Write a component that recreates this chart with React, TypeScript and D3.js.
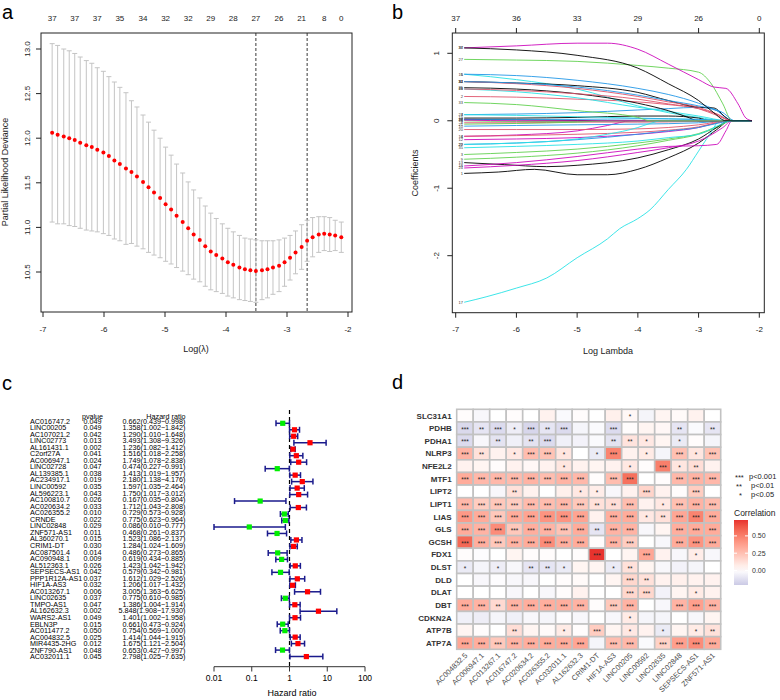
import React from "react";
import * as d3 from "d3";

const FONT = "'Liberation Sans', Arial, Helvetica, sans-serif";

// ---------------- Panel a : cross-validation curve ----------------
const cvLogLambda = [-6.85, -6.76, -6.66, -6.57, -6.48, -6.39, -6.29, -6.20, -6.11, -6.01, -5.92, -5.83, -5.74, -5.64, -5.55, -5.46, -5.36, -5.27, -5.18, -5.08, -4.99, -4.90, -4.81, -4.71, -4.62, -4.53, -4.43, -4.34, -4.25, -4.16, -4.06, -3.97, -3.88, -3.78, -3.69, -3.60, -3.51, -3.41, -3.32, -3.23, -3.13, -3.04, -2.95, -2.86, -2.76, -2.67, -2.58, -2.48, -2.39, -2.30, -2.21, -2.11];
const cvMean = [12.06, 12.04, 12.02, 12.00, 11.98, 11.95, 11.92, 11.90, 11.87, 11.84, 11.80, 11.75, 11.71, 11.66, 11.62, 11.57, 11.51, 11.45, 11.39, 11.33, 11.26, 11.20, 11.13, 11.06, 10.99, 10.92, 10.86, 10.79, 10.73, 10.69, 10.65, 10.61, 10.58, 10.55, 10.53, 10.52, 10.51, 10.52, 10.53, 10.55, 10.57, 10.61, 10.66, 10.72, 10.78, 10.85, 10.89, 10.92, 10.93, 10.92, 10.91, 10.89];
const cvSd = [1.00, 1.00, 0.98, 0.98, 0.97, 0.96, 0.95, 0.94, 0.92, 0.91, 0.89, 0.88, 0.86, 0.85, 0.80, 0.78, 0.75, 0.73, 0.70, 0.67, 0.64, 0.61, 0.58, 0.55, 0.52, 0.50, 0.47, 0.45, 0.43, 0.41, 0.39, 0.38, 0.37, 0.36, 0.35, 0.35, 0.35, 0.33, 0.32, 0.30, 0.29, 0.27, 0.25, 0.24, 0.25, 0.23, 0.22, 0.20, 0.19, 0.19, 0.17, 0.17];
const cvTopIdx = [0, 4, 8, 12, 16, 20, 24, 28, 32, 36, 40, 44, 48, 51];
const cvTopLabels = ["37", "37", "37", "35", "34", "32", "32", "29", "28", "27", "26", "21", "8", "0"];
const cvLambdaLines = [-3.51, -2.67];
const logLambdaTicks = [-7, -6, -5, -4, -3, -2];
const cvTicksY = [10.5, 11.0, 11.5, 12.0, 12.5, 13.0];

// ---------------- Panel b : coefficient paths ----------------
const pathTopLabels = ["37", "36", "33", "29", "26", "0"];
const pathTicksY = [-2, -1, 0, 1];
const pathPalette = ["#000000", "#DF536B", "#61D04F", "#2297E6", "#28E2E5", "#CD0BBC"];
const coefPaths: [number, number][][] = [
  [[-6.86, -0.78], [-6.3, -0.76], [-5.7, -0.72], [-5, -0.8], [-4.5, -0.8], [-4, -0.72], [-3.5, -0.55], [-3, -0.33], [-2.7, -0.13], [-2.48, 0], [-2.12, 0]],
  [[-6.86, 0.36], [-6, 0.35], [-5, 0.32], [-4, 0.28], [-3.5, 0.24], [-3, 0.18], [-2.7, 0.1], [-2.45, 0], [-2.12, 0]],
  [[-6.86, -0.5], [-6, -0.47], [-5, -0.42], [-4, -0.33], [-3.5, -0.27], [-3, -0.19], [-2.7, -0.09], [-2.45, 0], [-2.12, 0]],
  [[-6.86, 0.09], [-6, 0.1], [-5, 0.12], [-4, 0.16], [-3.5, 0.18], [-3, 0.2], [-2.7, 0.15], [-2.45, 0], [-2.12, 0]],
  [[-6.86, 0.69], [-6, 0.61], [-5, 0.47], [-4, 0.22], [-3.5, 0.12], [-3, 0.05], [-2.6, 0], [-2.12, 0]],
  [[-6.86, -0.23], [-6, -0.21], [-5, -0.15], [-4.5, -0.07], [-4.1, 0], [-2.12, 0]],
  [[-6.86, 0.02], [-6, 0.015], [-5, 0.005], [-4.6, 0], [-2.12, 0]],
  [[-6.86, -0.03], [-6, -0.03], [-5, -0.02], [-4, -0.02], [-3, -0.01], [-2.5, 0], [-2.12, 0]],
  [[-6.86, -0.57], [-6, -0.54], [-5, -0.48], [-4, -0.37], [-3.5, -0.29], [-3, -0.2], [-2.7, -0.1], [-2.45, 0], [-2.12, 0]],
  [[-6.86, -0.08], [-6, -0.07], [-5, -0.06], [-4, -0.05], [-3, -0.03], [-2.5, 0], [-2.12, 0]],
  [[-6.86, 0.47], [-6, 0.43], [-5, 0.34], [-4, 0.2], [-3.5, 0.14], [-3, 0.07], [-2.5, 0], [-2.12, 0]],
  [[-6.86, -0.28], [-6, -0.27], [-5, -0.25], [-4, -0.2], [-3.5, -0.16], [-3, -0.1], [-2.7, -0.03], [-2.5, 0], [-2.12, 0]],
  [[-6.86, -0.62], [-6.2, -0.65], [-5.5, -0.68], [-5, -0.66], [-4, -0.55], [-3.5, -0.43], [-3, -0.27], [-2.7, -0.1], [-2.5, 0], [-2.12, 0]],
  [[-6.86, -0.23], [-6, -0.22], [-5, -0.2], [-4, -0.17], [-3.5, -0.14], [-3, -0.09], [-2.7, -0.03], [-2.45, 0], [-2.12, 0]],
  [[-6.86, 0.0], [-6, -0.01], [-5, -0.01], [-4.6, 0], [-2.12, 0]],
  [[-6.86, 0.69], [-6, 0.67], [-5, 0.6], [-4, 0.48], [-3.5, 0.39], [-3, 0.26], [-2.7, 0.15], [-2.45, 0], [-2.12, 0]],
  [[-6.86, -2.69], [-6.5, -2.61], [-6, -2.48], [-5.5, -2.33], [-5, -2.03], [-4.5, -1.75], [-4.3, -1.6], [-4, -1.45], [-3.8, -1.32], [-3.5, -1.02], [-3.2, -0.72], [-3, -0.45], [-2.8, -0.18], [-2.65, 0], [-2.12, 0]],
  [[-6.86, -0.67], [-6, -0.62], [-5, -0.53], [-4, -0.42], [-3.5, -0.38], [-3, -0.37], [-2.7, -0.35], [-2.55, -0.15], [-2.45, 0], [-2.12, 0]],
  [[-6.86, 0.04], [-6, 0.04], [-5, 0.05], [-4, 0.07], [-3.5, 0.07], [-3, 0.04], [-2.8, 0], [-2.12, 0]],
  [[-6.86, -0.13], [-6, -0.13], [-5, -0.13], [-4, -0.12], [-3.5, -0.1], [-3, -0.06], [-2.5, 0], [-2.12, 0]],
  [[-6.86, -0.05], [-6, -0.04], [-5, -0.02], [-4.5, 0], [-2.12, 0]],
  [[-6.86, -0.35], [-6, -0.33], [-5, -0.28], [-4, -0.2], [-3.5, -0.15], [-3, -0.1], [-2.6, -0.02], [-2.45, 0], [-2.12, 0]],
  [[-6.86, 0.09], [-6, 0.08], [-5, 0.06], [-4, 0.04], [-3.5, 0.03], [-3, 0.02], [-2.4, 0], [-2.12, 0]],
  [[-6.86, -0.7], [-6, -0.66], [-5, -0.59], [-4, -0.47], [-3.5, -0.4], [-3, -0.3], [-2.6, -0.1], [-2.45, 0], [-2.12, 0]],
  [[-6.86, 0.49], [-6, 0.47], [-5, 0.4], [-4, 0.26], [-3.5, 0.15], [-3.2, 0.06], [-3.0, 0], [-2.12, 0]],
  [[-6.86, 0.47], [-6, 0.45], [-5, 0.4], [-4, 0.32], [-3.5, 0.25], [-3, 0.18], [-2.7, 0.08], [-2.45, 0], [-2.12, 0]],
  [[-6.86, 0.91], [-6, 0.9], [-5, 0.88], [-4, 0.82], [-3.5, 0.78], [-3, 0.72], [-2.8, 0.56], [-2.6, 0.25], [-2.45, 0], [-2.12, 0]],
  [[-6.86, 0.02], [-6, 0.02], [-5, 0.02], [-4, 0.03], [-3, 0.02], [-2.5, 0], [-2.12, 0]],
  [[-6.86, -0.35], [-6, -0.33], [-5, -0.27], [-4.5, -0.2], [-4, -0.1], [-3.8, -0.04], [-3.6, 0], [-2.12, 0]],
  [[-6.86, 0.01], [-6, 0.0], [-5.5, 0], [-2.12, 0]],
  [[-6.86, 0.58], [-6, 0.56], [-5, 0.52], [-4, 0.42], [-3.5, 0.3], [-3, 0.2], [-2.75, 0.19], [-2.55, 0.05], [-2.45, 0], [-2.12, 0]],
  [[-6.86, 0.58], [-6, 0.55], [-5, 0.48], [-4, 0.36], [-3.5, 0.28], [-3, 0.2], [-2.7, 0.1], [-2.45, 0], [-2.12, 0]],
  [[-6.86, 0.27], [-6, 0.24], [-5, 0.15], [-4, 0.05], [-3.8, 0], [-2.12, 0]],
  [[-6.86, 0.58], [-6, 0.56], [-5, 0.5], [-4, 0.38], [-3.5, 0.3], [-3, 0.22], [-2.6, 0.12], [-2.4, 0], [-2.12, 0]],
  [[-6.86, -0.4], [-6, -0.38], [-5, -0.35], [-4, -0.3], [-3.5, -0.25], [-3, -0.2], [-2.7, -0.08], [-2.45, 0], [-2.12, 0]],
  [[-6.86, 1.08], [-6, 1.11], [-5, 1.15], [-4.5, 1.15], [-4, 1.06], [-3.5, 0.84], [-3, 0.61], [-2.75, 0.5], [-2.55, 0.48], [-2.35, 0.25], [-2.22, 0.04], [-2.12, 0]],
  [[-6.86, 1.08], [-6, 1.05], [-5, 0.97], [-4, 0.78], [-3.5, 0.55], [-3, 0.3], [-2.75, 0.12], [-2.55, 0], [-2.12, 0]],
];

// ---------------- Panel c : univariate Cox forest ----------------
const forestGenes = ["AC016747.2", "LINC00205", "AC107021.2", "LINC02773", "AL161431.1", "C2orf27A", "AC006947.1", "LINC02728", "AL139385.1", "AC234917.1", "LINC00592", "AL596223.1", "AC100810.7", "AC020634.2", "AC026355.2", "CRNDE", "LINC02848", "ZNF571-AS1", "AL360270.1", "CRIM1-DT", "AC087501.4", "AC090948.1", "AL512363.1", "SEPSECS-AS1", "PPP1R12A-AS1", "HIF1A-AS3", "AC013267.1", "LINC02635", "TMPO-AS1", "AL162632.3", "WARS2-AS1", "EBLN3P", "AC011477.2", "AC004832.5", "MIR4435-2HG", "ZNF790-AS1", "AC032011.1"];
const forestP = ["0.049", "0.049", "0.042", "0.013", "0.002", "0.041", "0.024", "0.047", "0.038", "0.019", "0.035", "0.043", "0.026", "0.033", "0.010", "0.022", "0.029", "0.011", "0.015", "0.030", "0.014", "0.009", "0.026", "0.042", "0.037", "0.032", "0.006", "0.037", "0.047", "0.002", "0.049", "0.015", "0.050", "0.025", "0.012", "0.048", "0.045"];
const forestHR = [0.662, 1.358, 1.290, 3.493, 1.236, 1.516, 1.749, 0.474, 1.413, 2.180, 1.597, 1.750, 0.167, 1.712, 0.729, 0.775, 0.086, 0.468, 1.523, 1.284, 0.486, 0.619, 1.423, 0.579, 1.612, 1.206, 3.005, 0.775, 1.386, 5.848, 1.401, 0.661, 0.754, 1.414, 1.675, 0.653, 2.798];
const forestLow = [0.439, 1.002, 1.010, 1.308, 1.082, 1.018, 1.078, 0.227, 1.019, 1.138, 1.035, 1.017, 0.035, 1.043, 0.573, 0.623, 0.010, 0.261, 1.086, 1.024, 0.273, 0.434, 1.042, 0.342, 1.029, 1.017, 1.363, 0.610, 1.004, 1.908, 1.002, 0.473, 0.569, 1.044, 1.121, 0.427, 1.025];
const forestHigh = [0.998, 1.842, 1.648, 9.326, 1.412, 2.258, 2.838, 0.991, 1.957, 4.176, 2.464, 3.012, 0.804, 2.808, 0.928, 0.964, 0.777, 0.837, 2.137, 1.609, 0.865, 0.885, 1.942, 0.981, 2.526, 1.432, 6.625, 0.985, 1.914, 17.930, 1.958, 0.924, 1.000, 1.915, 2.504, 0.997, 7.635];
const hrTicks = [0.01, 0.1, 1, 10, 100];

// ---------------- Panel d : correlation heatmap ----------------
const heatGenes = ["SLC31A1", "PDHB", "PDHA1", "NLRP3", "NFE2L2", "MTF1", "LIPT2", "LIPT1", "LIAS", "GLS", "GCSH", "FDX1", "DLST", "DLD", "DLAT", "DBT", "CDKN2A", "ATP7B", "ATP7A"];
const heatLnc = ["AC004832.5", "AC006947.1", "AC013267.1", "AC016747.2", "AC020634.2", "AC026355.2", "AC032011.1", "AL162632.3", "CRIM1-DT", "HIF1A-AS3", "LINC00205", "LINC00592", "LINC02635", "LINC02848", "SEPSECS-AS1", "ZNF571-AS1"];
const heatCorr = [
  [0.01, -0.03, 0.00, 0.01, 0.00, 0.05, -0.02, 0.01, 0.00, 0.06, 0.03, -0.04, 0.04, 0.02, 0.05, 0.00],
  [-0.15, -0.10, -0.14, -0.07, -0.16, -0.10, -0.14, -0.04, -0.02, -0.14, 0.01, 0.04, 0.03, -0.10, -0.02, -0.10],
  [-0.14, -0.03, -0.11, -0.06, -0.11, -0.14, -0.06, -0.05, -0.02, -0.11, 0.11, 0.09, 0.04, -0.08, 0.01, -0.04],
  [0.30, 0.12, 0.05, 0.09, 0.26, 0.24, 0.10, 0.00, -0.08, 0.48, 0.05, 0.08, -0.04, 0.25, 0.10, 0.24],
  [0.05, 0.04, 0.01, 0.05, 0.03, 0.05, 0.10, 0.05, 0.04, 0.05, 0.09, 0.01, 0.50, 0.10, 0.13, 0.05],
  [0.33, 0.28, 0.28, 0.27, 0.30, 0.26, 0.30, 0.28, 0.01, 0.26, 0.55, 0.00, 0.01, 0.28, 0.30, 0.28],
  [0.00, 0.00, -0.03, 0.12, 0.05, 0.00, 0.06, 0.09, 0.07, -0.03, 0.05, 0.17, 0.05, 0.01, 0.20, 0.00],
  [0.28, 0.20, 0.22, 0.20, 0.27, 0.26, 0.28, 0.22, 0.12, 0.13, 0.26, 0.05, 0.09, 0.25, 0.30, 0.26],
  [0.40, 0.33, 0.22, 0.33, 0.36, 0.42, 0.42, 0.36, 0.05, 0.32, 0.33, 0.09, 0.12, 0.35, 0.48, 0.33],
  [0.33, 0.30, 0.45, 0.22, 0.32, 0.30, 0.24, 0.33, -0.10, 0.30, 0.30, -0.03, 0.04, 0.32, 0.33, 0.33],
  [0.58, 0.32, 0.22, 0.30, 0.33, 0.45, 0.32, 0.33, 0.01, 0.30, 0.20, 0.00, -0.03, 0.33, 0.42, 0.33],
  [0.01, -0.01, 0.00, 0.04, 0.01, 0.01, 0.00, 0.01, 0.73, 0.00, 0.04, 0.35, 0.05, -0.03, 0.07, -0.03],
  [-0.08, -0.04, -0.07, -0.03, -0.10, -0.10, -0.08, 0.04, 0.04, -0.08, 0.12, 0.04, -0.03, -0.05, -0.04, 0.00],
  [0.00, -0.03, -0.01, -0.03, -0.03, 0.00, 0.01, 0.02, 0.00, 0.04, 0.16, 0.12, 0.05, 0.06, 0.05, 0.05],
  [0.00, 0.00, 0.00, -0.03, 0.00, -0.03, 0.01, 0.05, 0.00, 0.00, 0.16, 0.16, -0.05, 0.04, 0.08, 0.05],
  [0.33, 0.30, 0.15, 0.30, 0.32, 0.32, 0.32, 0.30, 0.01, 0.22, 0.30, 0.00, -0.03, 0.30, 0.38, 0.30],
  [-0.06, -0.07, -0.04, -0.06, -0.03, -0.04, -0.01, -0.03, 0.00, -0.03, 0.08, -0.04, -0.04, 0.00, -0.03, 0.04],
  [0.04, 0.01, 0.00, 0.13, 0.04, 0.02, 0.08, 0.01, 0.20, 0.04, 0.09, 0.05, -0.08, 0.04, 0.08, 0.12],
  [0.35, 0.32, 0.22, 0.30, 0.32, 0.33, 0.33, 0.35, -0.04, 0.26, 0.28, -0.02, 0.18, 0.38, 0.45, 0.33],
];
const heatStars = [
  [0, 0, 0, 0, 0, 0, 0, 0, 0, 0, 1, 0, 0, 0, 0, 0],
  [3, 2, 3, 1, 3, 2, 3, 0, 0, 3, 0, 0, 0, 2, 0, 2],
  [3, 0, 2, 0, 2, 3, 0, 0, 0, 2, 2, 1, 0, 1, 0, 0],
  [3, 2, 0, 1, 3, 3, 1, 0, 1, 3, 0, 1, 0, 3, 1, 3],
  [0, 0, 0, 0, 0, 0, 1, 0, 0, 0, 1, 0, 3, 1, 2, 0],
  [3, 3, 3, 3, 3, 3, 3, 3, 0, 3, 3, 0, 0, 3, 3, 3],
  [0, 0, 0, 2, 0, 0, 0, 1, 1, 0, 0, 3, 0, 0, 3, 0],
  [3, 3, 3, 3, 3, 3, 3, 3, 2, 2, 3, 0, 1, 3, 3, 3],
  [3, 3, 3, 3, 3, 3, 3, 3, 0, 3, 3, 1, 2, 3, 3, 3],
  [3, 3, 3, 3, 3, 3, 3, 3, 2, 3, 3, 0, 0, 3, 3, 3],
  [3, 3, 3, 3, 3, 3, 3, 3, 0, 3, 3, 0, 0, 3, 3, 3],
  [0, 0, 0, 0, 0, 0, 0, 0, 3, 0, 0, 3, 0, 0, 1, 0],
  [1, 0, 1, 0, 2, 2, 1, 0, 0, 1, 2, 0, 0, 0, 0, 0],
  [0, 0, 0, 0, 0, 0, 0, 0, 0, 0, 3, 2, 0, 0, 0, 0],
  [0, 0, 0, 0, 0, 0, 0, 0, 0, 0, 3, 3, 0, 0, 1, 0],
  [3, 3, 2, 3, 3, 3, 3, 3, 0, 3, 3, 0, 0, 3, 3, 3],
  [0, 0, 0, 0, 0, 0, 0, 0, 0, 0, 1, 0, 0, 0, 0, 0],
  [0, 0, 0, 2, 0, 0, 1, 0, 3, 0, 1, 0, 1, 0, 1, 2],
  [3, 3, 3, 3, 3, 3, 3, 3, 0, 3, 3, 0, 3, 3, 3, 3],
];
const legendTicks = [0, 0.25, 0.5];
const corrRange = [-0.21, 0.73];

export default function App() {
  // ----- panel a scales
  const xA = d3.scaleLinear().domain([-7, -2]).range([43, 348]);
  const yA = d3.scaleLinear().domain([10.5, 13]).range([272, 49]);
  // ----- panel b scales
  const xB = d3.scaleLinear().domain([-7, -2]).range([455.7, 759.3]);
  const yB = d3.scaleLinear().domain([-2, 1]).range([255.7, 53.3]);
  const lineB = d3
    .line<[number, number]>()
    .x((d) => xB(d[0]))
    .y((d) => yB(d[1]))
    .curve(d3.curveMonotoneX);
  // ----- panel c scales
  const xC = d3.scaleLog().domain([0.01, 100]).range([214, 365]);
  const rowText = (i: number) => 420.9 + i * 6.55;
  const rowMark = (i: number) => 423.3 + i * 6.48;
  // ----- panel d scales
  const xD = d3.scaleBand<string>().domain(heatLnc).range([456.7, 720.7]);
  const yD = d3.scaleBand<string>().domain(heatGenes).range([409.3, 649.3]);
  const colorD = d3
    .scaleLinear<string>()
    .domain([corrRange[0], 0, corrRange[1]])
    .range(["#CBCAE5", "#FFFFFF", "#E8332E"])
    .interpolate(d3.interpolateLab);
  const yLeg = d3.scaleLinear().domain(corrRange).range([585, 520]);
  const gradStops = d3.range(0, 11).map((k) => {
    const v = corrRange[0] + ((corrRange[1] - corrRange[0]) * k) / 10;
    return { off: 1 - k / 10, color: colorD(v) };
  });

  const axisCol = "#222";

  return (
    <svg
      width={780}
      height={700}
      style={{ position: "absolute", left: 0, top: 0, background: "#fff" }}
      fontFamily={FONT}
    >
      {/* ================= Panel a ================= */}
      <text x={2} y={19} fontSize={20}>a</text>
      <rect x={41} y={33} width={311} height={279} fill="none" stroke={axisCol} strokeWidth={1} />
      {cvLambdaLines.map((v, i) => (
        <line key={i} x1={xA(v)} x2={xA(v)} y1={33} y2={312} stroke="#222" strokeWidth={0.9} strokeDasharray="3,2" />
      ))}
      {cvLogLambda.map((l, i) => {
        const x = xA(l);
        const up = yA(cvMean[i] + cvSd[i]);
        const lo = yA(cvMean[i] - cvSd[i]);
        return (
          <g key={i} stroke="#C4C4C4" strokeWidth={1}>
            <line x1={x} x2={x} y1={up} y2={lo} />
            <line x1={x - 2.5} x2={x + 2.5} y1={up} y2={up} />
            <line x1={x - 2.5} x2={x + 2.5} y1={lo} y2={lo} />
          </g>
        );
      })}
      {cvLogLambda.map((l, i) => (
        <circle key={i} cx={xA(l)} cy={yA(cvMean[i])} r={2} fill="#FF0000" />
      ))}
      {cvTopIdx.map((idx, i) => (
        <text key={i} x={xA(cvLogLambda[idx])} y={21} fontSize={8} textAnchor="middle" fill={axisCol}>
          {cvTopLabels[i]}
        </text>
      ))}
      {logLambdaTicks.map((t) => (
        <g key={t}>
          <line x1={xA(t)} x2={xA(t)} y1={312} y2={317} stroke={axisCol} />
          <text x={xA(t)} y={332} fontSize={8} textAnchor="middle" fill={axisCol}>{t}</text>
        </g>
      ))}
      {cvTicksY.map((t) => (
        <g key={t}>
          <line x1={36} x2={41} y1={yA(t)} y2={yA(t)} stroke={axisCol} />
          <text transform={`translate(30,${yA(t)}) rotate(-90)`} fontSize={8} textAnchor="middle" fill={axisCol}>
            {t.toFixed(1)}
          </text>
        </g>
      ))}
      <text transform={`translate(7.5,172) rotate(-90)`} fontSize={9} textAnchor="middle" fill={axisCol}>
        Partial Likelihood Deviance
      </text>
      <text x={196} y={352} fontSize={9} textAnchor="middle" fill={axisCol}>Log(λ)</text>

      {/* ================= Panel b ================= */}
      <text x={392} y={19} fontSize={20}>b</text>
      <rect x={452.3} y={33} width={312} height={279.7} fill="none" stroke={axisCol} strokeWidth={1} />
      {coefPaths.map((p, i) => (
        <path key={i} d={lineB(p) || ""} fill="none" stroke={pathPalette[i % 6]} strokeWidth={0.9} />
      ))}
      {coefPaths.map((p, i) => (
        <text key={i} x={463} y={yB(p[0][1]) + 1.4} fontSize={4} textAnchor="end" fill="#333">
          {i + 1}
        </text>
      ))}
      {logLambdaTicks.map((t, i) => (
        <g key={t}>
          <line x1={xB(t)} x2={xB(t)} y1={312.7} y2={317.7} stroke={axisCol} />
          <text x={xB(t)} y={332} fontSize={8} textAnchor="middle" fill={axisCol}>{t}</text>
          <line x1={xB(t)} x2={xB(t)} y1={33} y2={28} stroke={axisCol} />
          <text x={xB(t)} y={21} fontSize={8} textAnchor="middle" fill={axisCol}>{pathTopLabels[i]}</text>
        </g>
      ))}
      {pathTicksY.map((t) => (
        <g key={t}>
          <line x1={447.3} x2={452.3} y1={yB(t)} y2={yB(t)} stroke={axisCol} />
          <text transform={`translate(438.5,${yB(t)}) rotate(-90)`} fontSize={8} textAnchor="middle" fill={axisCol}>
            {t}
          </text>
        </g>
      ))}
      <text transform={`translate(418,173) rotate(-90)`} fontSize={9} textAnchor="middle" fill={axisCol}>
        Coefficients
      </text>
      <text x={608} y={354} fontSize={9} textAnchor="middle" fill={axisCol}>Log Lambda</text>

      {/* ================= Panel c ================= */}
      <text x={2} y={390} fontSize={20}>c</text>
      <text x={92.5} y={418.5} fontSize={7.2} textAnchor="middle">pvalue</text>
      <text x={185.5} y={418.5} fontSize={7.2} textAnchor="end">Hazard ratio</text>
      {forestGenes.map((g, i) => (
        <g key={g} fontSize={7.2}>
          <text x={30} y={rowText(i) + 2.6}>{g}</text>
          <text x={92.5} y={rowText(i) + 2.6} textAnchor="middle">{forestP[i]}</text>
          <text x={185.5} y={rowText(i) + 2.6} textAnchor="end">
            {`${forestHR[i].toFixed(3)}(${forestLow[i].toFixed(3)}−${forestHigh[i].toFixed(3)})`}
          </text>
        </g>
      ))}
      <line x1={xC(1)} x2={xC(1)} y1={410} y2={666.7} stroke="#000" strokeWidth={1.2} strokeDasharray="4,3" />
      {forestGenes.map((g, i) => {
        const y = rowMark(i);
        const x0 = xC(forestLow[i]);
        const x1 = xC(forestHigh[i]);
        return (
          <g key={g}>
            <g stroke="#1A1A8C" strokeWidth={1.5}>
              <line x1={x0} x2={x1} y1={y} y2={y} />
              <line x1={x0} x2={x0} y1={y - 3} y2={y + 3} />
              <line x1={x1} x2={x1} y1={y - 3} y2={y + 3} />
            </g>
            <rect
              x={xC(forestHR[i]) - 2.6}
              y={y - 2.6}
              width={5.2}
              height={5.2}
              fill={forestHR[i] > 1 ? "#FF0000" : "#00EE00"}
            />
          </g>
        );
      })}
      <line x1={xC(0.01)} x2={xC(100)} y1={666.7} y2={666.7} stroke="#333" />
      {hrTicks.map((t) => (
        <g key={t}>
          <line x1={xC(t)} x2={xC(t)} y1={666.7} y2={671.5} stroke="#333" />
          <text x={xC(t)} y={680.5} fontSize={8.5} textAnchor="middle">{String(t)}</text>
        </g>
      ))}
      <text x={292} y={696} fontSize={9} textAnchor="middle">Hazard ratio</text>

      {/* ================= Panel d ================= */}
      <text x={392} y={389} fontSize={20}>d</text>
      {heatGenes.map((g, r) =>
        heatLnc.map((l, c) => (
          <rect
            key={g + l}
            x={xD(l)}
            y={yD(g)}
            width={xD.bandwidth()}
            height={yD.bandwidth()}
            fill={colorD(heatCorr[r][c])}
            stroke="#C2C2C2"
            strokeWidth={1.6}
          />
        ))
      )}
      {heatGenes.map((g, r) =>
        heatLnc.map((l, c) =>
          heatStars[r][c] > 0 ? (
            <text
              key={"s" + g + l}
              x={(xD(l) as number) + xD.bandwidth() / 2}
              y={(yD(g) as number) + yD.bandwidth() / 2 + 3.6}
              fontSize={6.5}
              textAnchor="middle"
              fill="#222"
            >
              {"*".repeat(heatStars[r][c])}
            </text>
          ) : null
        )
      )}
      {heatGenes.map((g) => (
        <text
          key={g}
          x={451.7}
          y={(yD(g) as number) + yD.bandwidth() / 2 + 2.9}
          fontSize={8}
          fontWeight="bold"
          textAnchor="end"
          fill="#333"
        >
          {g}
        </text>
      ))}
      {heatLnc.map((l) => (
        <text
          key={l}
          transform={`translate(${(xD(l) as number) + xD.bandwidth() / 2 + 3},${656}) rotate(-45)`}
          fontSize={7.5}
          textAnchor="end"
          fill="#4D4D4D"
        >
          {l}
        </text>
      ))}
      {/* significance legend */}
      <g fontSize={7.5} fill="#222">
        <text x={735} y={480}>***</text>
        <text x={749} y={479}>p&lt;0.001</text>
        <text x={736} y={489}>**</text>
        <text x={751} y={488}>p&lt;0.01</text>
        <text x={739} y={498}>*</text>
        <text x={751} y={497}>p&lt;0.05</text>
      </g>
      <text x={734} y={515.5} fontSize={8.5} fill="#222">Correlation</text>
      <defs>
        <linearGradient id="corrGrad" x1="0" y1="0" x2="0" y2="1">
          {gradStops
            .slice()
            .sort((a, b) => a.off - b.off)
            .map((s, i) => (
              <stop key={i} offset={s.off} stopColor={s.color} />
            ))}
        </linearGradient>
      </defs>
      <rect x={734} y={520} width={14} height={65} fill="url(#corrGrad)" />
      {legendTicks.map((t) => (
        <g key={t}>
          <line x1={734} x2={737} y1={yLeg(t)} y2={yLeg(t)} stroke="#fff" />
          <line x1={745} x2={748} y1={yLeg(t)} y2={yLeg(t)} stroke="#fff" />
          <text x={752} y={yLeg(t) + 2.5} fontSize={7} fill="#333">{t.toFixed(2)}</text>
        </g>
      ))}
    </svg>
  );
}
